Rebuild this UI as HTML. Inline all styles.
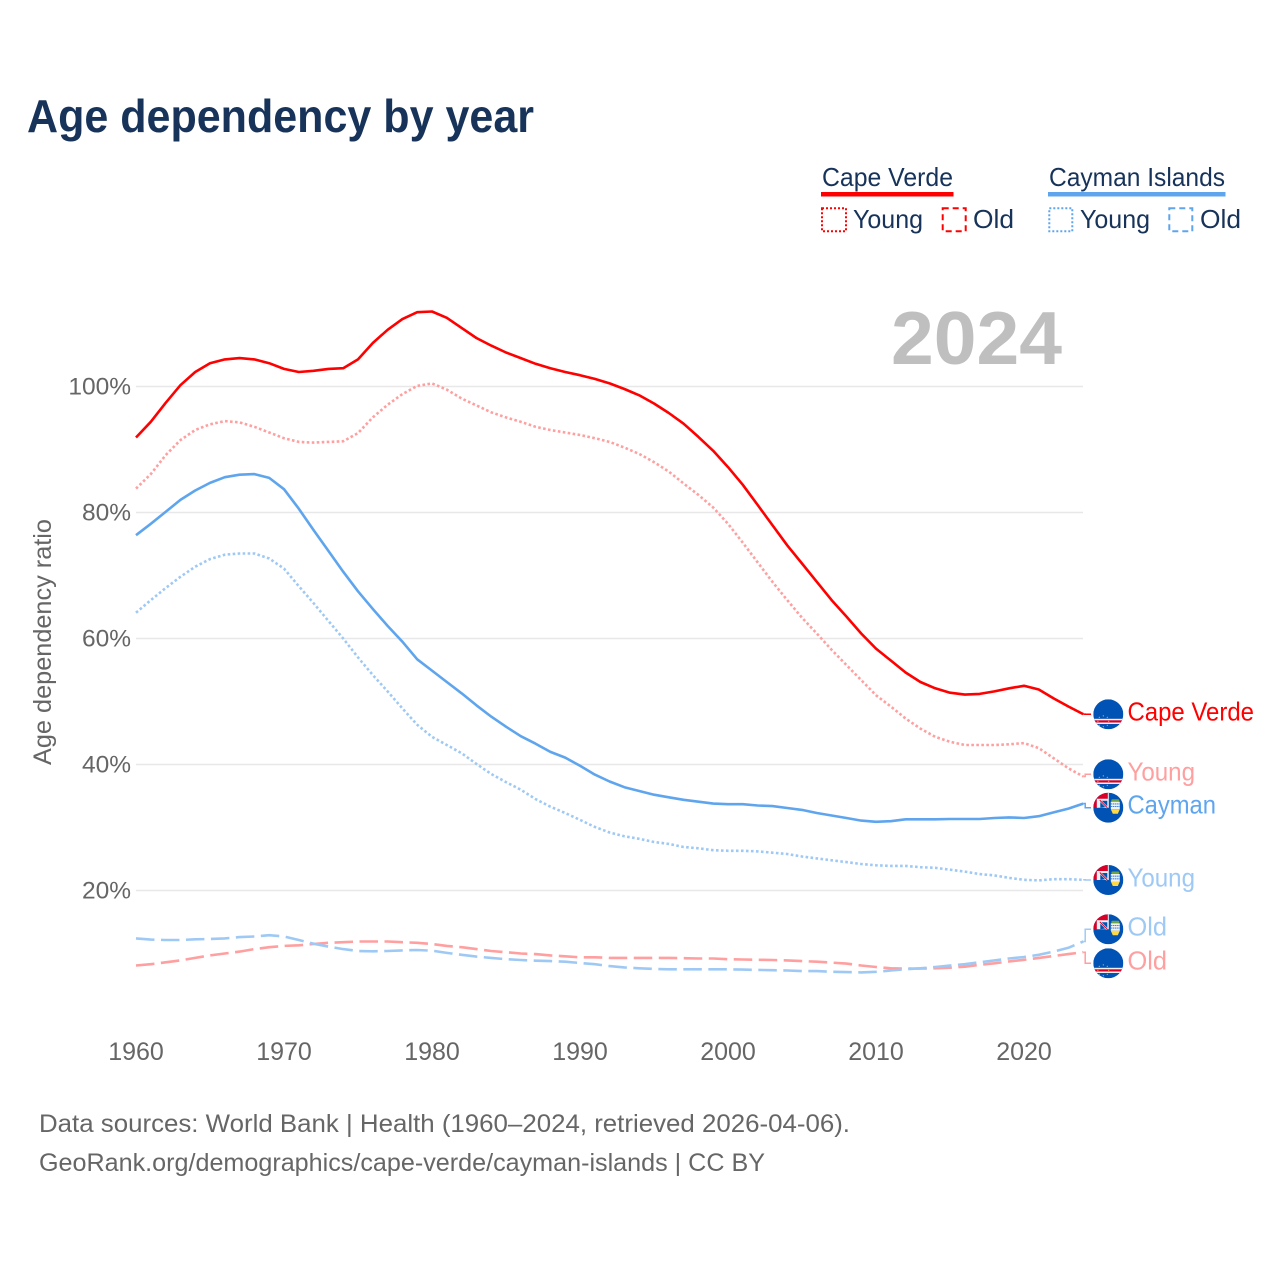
<!DOCTYPE html>
<html lang="en">
<head>
<meta charset="utf-8">
<title>Age dependency by year</title>
<style>
html,body{margin:0;padding:0;background:#fff;}
svg{display:block;font-family:"Liberation Sans",sans-serif;}
</style>
</head>
<body>
<svg id="chart" width="1280" height="1280" viewBox="0 0 1280 1280" xmlns="http://www.w3.org/2000/svg">
  <defs>
    <clipPath id="flag-clip"><circle cx="0" cy="0" r="15"/></clipPath>
    <g id="flag-cv" clip-path="url(#flag-clip)">
      <rect x="-15" y="-15" width="30" height="30" fill="#0052b4"/>
      <rect x="-15" y="4.500" width="30" height="5.200" fill="#f0f0f0"/>
      <rect x="-15" y="6" width="30" height="2.200" fill="#d80027"/>
      <g fill="#ffda44" opacity=".8">
        <circle cx="-5" cy="1.600" r=".6"/><circle cx="-1" cy="3" r=".6"/><circle cx="-9" cy="3" r=".6"/>
        <circle cx="0.400" cy="7" r=".6"/><circle cx="-10.400" cy="7" r=".6"/><circle cx="-1" cy="11" r=".6"/>
        <circle cx="-9" cy="11" r=".6"/><circle cx="-5" cy="12.400" r=".6"/>
      </g>
    </g>
    <g id="flag-ky" clip-path="url(#flag-clip)">
      <rect x="-15" y="-15" width="30" height="30" fill="#0052b4"/>
      <rect x="-15" y="-15" width="15" height="15" fill="#d80027"/>
      <path d="M-11.500,0 L-11.500,-9 L0,-9 L0,0 Z" fill="#f0f0f0"/>
      <path d="M-8,0 L-8,-7 L-1,-7 L-1,-1 Z" fill="#0052b4"/>
      <path d="M-9,-8 L-1,0" stroke="#f0f0f0" stroke-width="2"/>
      <path d="M-8.500,-7.500 L-1,0" stroke="#d80027" stroke-width="1"/>
      <path d="M0,-15 L0,0" stroke="#f0f0f0" stroke-width="1"/>
      <rect x="3" y="-8.500" width="8" height="2.600" rx="1.200" fill="#6da544"/>
      <rect x="2.500" y="-6" width="9" height="7.500" fill="#f0f0f0"/>
      <path d="M2.500,-3.800 h9 M2.500,-1.200 h9" stroke="#338af3" stroke-width="1.100" stroke-dasharray="1.500 .6"/>
      <path d="M2.500,1.500 h9 L9.500,6 h-5 Z" fill="#ffda44"/>
    </g>
  </defs>

  <text x="27" y="132" font-size="46" font-weight="700" fill="#17335a" textLength="507" lengthAdjust="spacingAndGlyphs">Age dependency by year</text>

  <g>
    <text x="822" y="186" font-size="26" fill="#17335a" textLength="131" lengthAdjust="spacingAndGlyphs">Cape Verde</text>
    <rect x="821" y="192" width="132.500" height="4.500" fill="#ff0000"/>
    <rect x="822" y="208.300" width="24" height="23" fill="none" stroke="#ff0000" stroke-width="2" stroke-dasharray="2 2"/>
    <text x="853" y="228" font-size="26" fill="#17335a" textLength="70" lengthAdjust="spacingAndGlyphs">Young</text>
    <rect x="942.700" y="208.300" width="23" height="23" fill="none" stroke="#ff0000" stroke-width="2" stroke-dasharray="6 4"/>
    <text x="973" y="228" font-size="26" fill="#17335a" textLength="41" lengthAdjust="spacingAndGlyphs">Old</text>

    <text x="1049" y="186" font-size="26" fill="#17335a" textLength="176" lengthAdjust="spacingAndGlyphs">Cayman Islands</text>
    <rect x="1048" y="192" width="177.500" height="4.500" fill="#5fa5ee"/>
    <rect x="1049.300" y="208.300" width="23" height="23" fill="none" stroke="#5fa5ee" stroke-width="2" stroke-dasharray="2 2"/>
    <text x="1080" y="228" font-size="26" fill="#17335a" textLength="70" lengthAdjust="spacingAndGlyphs">Young</text>
    <rect x="1169.300" y="208.300" width="23" height="23" fill="none" stroke="#5fa5ee" stroke-width="2" stroke-dasharray="6 4"/>
    <text x="1200" y="228" font-size="26" fill="#17335a" textLength="41" lengthAdjust="spacingAndGlyphs">Old</text>
  </g>

  <text x="891" y="364" font-size="75" font-weight="700" fill="#bfbfbf" textLength="171" lengthAdjust="spacingAndGlyphs">2024</text>

  <text transform="translate(51,765) rotate(-90)" x="0" y="0" font-size="25" fill="#666666" textLength="246" lengthAdjust="spacingAndGlyphs">Age dependency ratio</text>

  <g id="grid"></g>
  <g id="ticks"></g>
  <g id="series"></g>

  <g>
    <use href="#flag-cv" x="1108.300" y="714.300"/>
    <use href="#flag-cv" x="1108.300" y="774.300"/>
    <use href="#flag-ky" x="1108.300" y="807.700"/>
    <use href="#flag-ky" x="1108.300" y="880"/>
    <use href="#flag-ky" x="1108.300" y="929.300"/>
    <use href="#flag-cv" x="1108.300" y="963.300"/>
    <text x="1127.500" y="720.500" font-size="26" fill="#ff0000" textLength="126.500" lengthAdjust="spacingAndGlyphs">Cape Verde</text>
    <text x="1127.500" y="780.500" font-size="26" fill="#ff9f9f" textLength="67.500" lengthAdjust="spacingAndGlyphs">Young</text>
    <text x="1127.500" y="813.500" font-size="26" fill="#5fa5ee" textLength="88.500" lengthAdjust="spacingAndGlyphs">Cayman</text>
    <text x="1127.500" y="886.500" font-size="26" fill="#9fc9f5" textLength="67.500" lengthAdjust="spacingAndGlyphs">Young</text>
    <text x="1127.500" y="935.500" font-size="26" fill="#9fc9f5" textLength="39.500" lengthAdjust="spacingAndGlyphs">Old</text>
    <text x="1127.500" y="969.500" font-size="26" fill="#ff9f9f" textLength="39.500" lengthAdjust="spacingAndGlyphs">Old</text>
  </g>

  <text x="39" y="1132" font-size="25" fill="#666666" textLength="811" lengthAdjust="spacingAndGlyphs">Data sources: World Bank | Health (1960–2024, retrieved 2026-04-06).</text>
  <text x="39" y="1171" font-size="25" fill="#666666" textLength="726" lengthAdjust="spacingAndGlyphs">GeoRank.org/demographics/cape-verde/cayman-islands | CC BY</text>
</svg>
<script>
const startYear = 1960;
const xTickLabels = [1960, 1970, 1980, 1990, 2000, 2010, 2020];
const yTickLabels = [20, 40, 60, 80, 100];
const capeVerdeTotal = [91.9,94.4,97.4,100.2,102.3,103.7,104.3,104.5,104.3,103.7,102.8,102.3,102.5,102.8,102.9,104.3,106.9,109.0,110.7,111.8,111.9,110.9,109.3,107.7,106.5,105.4,104.5,103.6,102.9,102.3,101.8,101.2,100.5,99.6,98.6,97.3,95.8,94.1,92.0,89.8,87.2,84.4,81.2,78.0,74.8,71.9,69.0,66.1,63.5,60.8,58.4,56.5,54.6,53.1,52.1,51.4,51.1,51.2,51.6,52.1,52.5,51.9,50.5,49.2,48.0];
const capeVerdeYoung = [83.8,86.1,89.1,91.5,93.1,94.0,94.5,94.3,93.6,92.7,91.8,91.2,91.1,91.2,91.3,92.6,95.1,97.1,98.8,100.1,100.5,99.5,98.1,97.0,95.9,95.1,94.4,93.6,93.1,92.7,92.3,91.8,91.2,90.3,89.3,88.0,86.5,84.6,82.8,80.8,78.2,75.2,72.1,69.0,66.1,63.3,60.8,58.2,55.8,53.4,51.0,49.2,47.3,45.7,44.4,43.6,43.1,43.1,43.1,43.2,43.4,42.6,41.0,39.4,38.1];
const capeVerdeOld = [8.1,8.3,8.6,8.9,9.3,9.7,10.0,10.3,10.7,11.0,11.2,11.3,11.5,11.7,11.8,11.9,11.9,11.9,11.8,11.7,11.5,11.2,11.0,10.7,10.4,10.2,10.0,9.9,9.7,9.55,9.4,9.4,9.3,9.3,9.3,9.3,9.3,9.25,9.2,9.2,9.1,9.05,9.0,8.97,8.9,8.8,8.7,8.55,8.4,8.1,7.85,7.65,7.6,7.6,7.65,7.75,7.9,8.2,8.45,8.75,9.0,9.3,9.6,9.9,10.2];
const caymanTotal = [76.4,78.2,80.1,82.0,83.5,84.7,85.6,86.0,86.1,85.5,83.7,80.6,77.2,73.9,70.6,67.5,64.7,62.0,59.5,56.7,54.9,53.1,51.3,49.4,47.6,46.0,44.5,43.3,42.0,41.1,39.8,38.4,37.3,36.4,35.8,35.2,34.8,34.4,34.1,33.8,33.7,33.7,33.5,33.4,33.1,32.8,32.3,31.9,31.5,31.1,30.9,31.0,31.3,31.3,31.3,31.35,31.35,31.35,31.5,31.6,31.5,31.8,32.4,33.0,33.8];
const caymanYoung = [64.1,66.1,68.0,69.8,71.4,72.6,73.3,73.5,73.5,72.7,71.1,68.3,65.6,62.8,60.0,57.0,54.2,51.6,48.9,46.3,44.4,43.1,41.8,40.1,38.5,37.2,36.0,34.5,33.3,32.3,31.2,30.1,29.2,28.6,28.2,27.7,27.4,26.9,26.7,26.4,26.3,26.3,26.2,26.0,25.8,25.4,25.1,24.8,24.5,24.2,24.0,23.9,23.9,23.7,23.6,23.3,23.0,22.6,22.4,22.0,21.7,21.6,21.8,21.8,21.7];
const caymanOld = [12.4,12.2,12.15,12.15,12.25,12.3,12.4,12.6,12.7,12.9,12.7,12.15,11.55,11.1,10.7,10.4,10.35,10.4,10.5,10.55,10.45,10.1,9.8,9.5,9.3,9.1,8.97,8.85,8.8,8.7,8.5,8.3,8.0,7.8,7.65,7.55,7.5,7.5,7.5,7.5,7.5,7.45,7.4,7.35,7.3,7.2,7.2,7.1,7.05,7.0,7.1,7.3,7.5,7.65,7.85,8.1,8.3,8.6,8.9,9.2,9.45,9.8,10.3,10.9,11.9];

const NS = 'http://www.w3.org/2000/svg';
function xScale(year) { return 136 + (year - startYear) * 14.8; }
function yScale(v) { return 1016.5 - v * 6.3; }

const gridG = document.getElementById('grid');
const ticksG = document.getElementById('ticks');
const seriesG = document.getElementById('series');

yTickLabels.forEach(function (t) {
  const line = document.createElementNS(NS, 'line');
  
  
  line.setAttribute('x1', 136);
  line.setAttribute('x2', 1083);
  line.setAttribute('y1', yScale(t));
  line.setAttribute('y2', yScale(t));
  line.setAttribute('stroke', '#e8e8e8');
  line.setAttribute('stroke-width', '1.500');
  gridG.appendChild(line);
  const label = document.createElementNS(NS, 'text');
  
  
  label.setAttribute('x', 131);
  label.setAttribute('y', yScale(t) + 8);
  label.setAttribute('text-anchor', 'end');
  label.setAttribute('font-size', '24.500');
  label.setAttribute('fill', '#666666');
  label.textContent = t + '%';
  ticksG.appendChild(label);
});

xTickLabels.forEach(function (t) {
  const label = document.createElementNS(NS, 'text');
  
  
  label.setAttribute('x', xScale(t));
  label.setAttribute('y', 1060);
  label.setAttribute('text-anchor', 'middle');
  label.setAttribute('font-size', '25');
  label.setAttribute('fill', '#666666');
  label.textContent = String(t);
  ticksG.appendChild(label);
});

function drawSeries(name, values, color, dash, labelY, width) {
  const pts = values.map(function (v, i) {
    return xScale(startYear + i).toFixed(1) + ',' + yScale(v).toFixed(1);
  }).join(' ');
  const line = document.createElementNS(NS, 'polyline');
  
  
  line.setAttribute('points', pts);
  line.setAttribute('fill', 'none');
  line.setAttribute('stroke', color);
  line.setAttribute('stroke-width', width);
  line.setAttribute('stroke-linejoin', 'round');
  if (dash) line.setAttribute('stroke-dasharray', dash);
  seriesG.appendChild(line);

  const endX = xScale(startYear + values.length - 1);
  const endY = yScale(values[values.length - 1]);
  const conn = document.createElementNS(NS, 'path');
  
  
  conn.setAttribute('d', 'M' + endX + ',' + endY + ' L' + (endX + 2) + ',' + endY + ' L' + (endX + 2) + ',' + labelY + ' L1091,' + labelY);
  conn.setAttribute('fill', 'none');
  conn.setAttribute('stroke', color);
  conn.setAttribute('stroke-width', '1.500');
  seriesG.appendChild(conn);
}

drawSeries('cape-verde-old', capeVerdeOld, '#ff9f9f', '18.5 6.5', 963.3, 2.6);
drawSeries('cayman-old', caymanOld, '#9fc9f5', '18.5 6.5', 929.3, 2.6);
drawSeries('cayman-young', caymanYoung, '#9fc9f5', '2.6 2.4', 880, 2.6);
drawSeries('cayman-total', caymanTotal, '#5fa5ee', '', 807.7, 2.6);
drawSeries('cape-verde-young', capeVerdeYoung, '#ff9f9f', '2.6 2.4', 774.3, 2.6);
drawSeries('cape-verde-total', capeVerdeTotal, '#ff0000', '', 714.3, 2.6);
</script>
</body>
</html>
